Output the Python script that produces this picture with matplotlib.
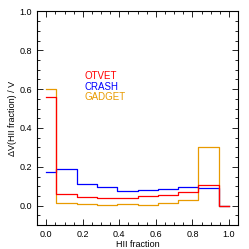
import matplotlib
matplotlib.use("Agg")
import matplotlib.pyplot as plt
import numpy as np
from matplotlib.ticker import MultipleLocator

plt.rcParams['font.family'] = ['Liberation Sans', 'DejaVu Sans']

bin_centers = [0.0, 1/9, 2/9, 3/9, 4/9, 5/9, 6/9, 7/9, 8/9, 1.0]
otvet = [0.56, 0.06, 0.043, 0.037, 0.040, 0.048, 0.053, 0.068, 0.106, 0.0]
crash = [0.171, 0.19, 0.114, 0.097, 0.078, 0.080, 0.085, 0.094, 0.092, 0.0]
gadget = [0.60, 0.014, 0.010, 0.005, 0.009, 0.005, 0.012, 0.030, 0.304, 0.0]
names = ["OTVET", "CRASH", "GADGET"]
colors = ["#FF0000", "#0000FF", "#E89A00"]

fig = plt.figure(figsize=(2.49, 2.49), dpi=100)
ax = fig.add_axes([0.149, 0.096, 0.807, 0.858])

for vals, c in zip([crash, gadget, otvet], [colors[1], colors[2], colors[0]]):
    ax.step(bin_centers, vals, where='mid', color=c, lw=0.9)

ax.set_xlim(-0.05, 1.05)
ax.set_ylim(-0.1, 1.0)
ax.xaxis.set_major_locator(MultipleLocator(0.2))
ax.xaxis.set_minor_locator(MultipleLocator(0.05))
ax.yaxis.set_major_locator(MultipleLocator(0.2))
ax.yaxis.set_minor_locator(MultipleLocator(0.05))
ax.tick_params(which='both', direction='in', top=True, right=True, labelsize=6.5, width=0.6)
ax.tick_params(which='major', length=4)
ax.tick_params(which='minor', length=2)
ax.set_xticklabels([f"{v:.1f}" for v in ax.get_xticks()])
ax.set_yticklabels([f"{v:.1f}" for v in ax.get_yticks()])
for s in ax.spines.values():
    s.set_linewidth(0.8)

ax.set_xlabel("HII fraction", fontsize=6.5, labelpad=1)
ax.set_ylabel("ΔV(HII fraction) / V", fontsize=6.5, labelpad=2)

ys = [0.667, 0.612, 0.558]
for n, c, y in zip(names, colors, ys):
    ax.text(0.207, y, n, color=c, fontsize=7, va='center', ha='left')

fig.savefig("out.png", dpi=100)
